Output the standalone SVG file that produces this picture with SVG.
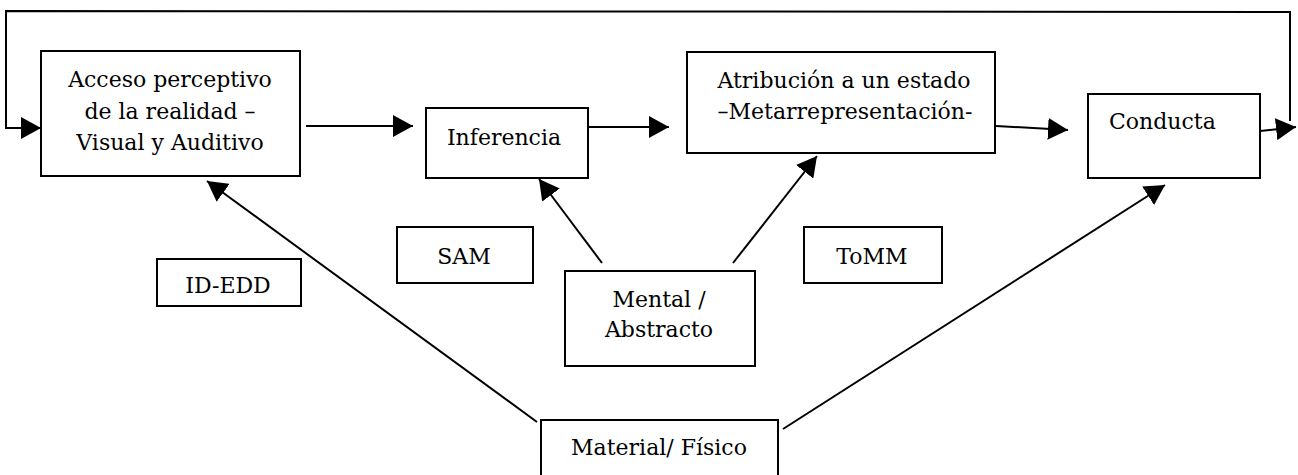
<svg xmlns="http://www.w3.org/2000/svg" width="1298" height="475" viewBox="0 0 1298 475">
<style>
  .box { fill: #ffffff; stroke: #000000; stroke-width: 2; }
  .lbl { font-family: "DejaVu Serif", "Liberation Serif", serif; font-size: 22px; fill: #000000; text-anchor: middle; }
  .conn { fill: none; stroke: #000000; stroke-width: 2; }
</style>
<defs>
  <marker id="arrow" markerUnits="userSpaceOnUse" markerWidth="21" markerHeight="22" refX="20" refY="11" orient="auto" viewBox="0 0 21 22">
    <path d="M0,0 L20,11 L0,22 z" fill="#000000"/>
  </marker>
</defs>
<rect width="1298" height="475" fill="#ffffff"/>
<g id="connectors">
  <polyline class="conn" points="1290,121 1290,12 6,11 6,128 41,128" marker-end="url(#arrow)"/>
  <line class="conn" x1="1260" y1="131" x2="1296" y2="127" marker-end="url(#arrow)"/>
  <line class="conn" x1="306" y1="126" x2="413" y2="126" marker-end="url(#arrow)"/>
  <line class="conn" x1="588" y1="127" x2="669" y2="127" marker-end="url(#arrow)"/>
  <line class="conn" x1="996" y1="126" x2="1068" y2="130" marker-end="url(#arrow)"/>
  <line class="conn" x1="602" y1="263" x2="539" y2="179" marker-end="url(#arrow)"/>
  <line class="conn" x1="733" y1="263" x2="817" y2="156" marker-end="url(#arrow)"/>
  <line class="conn" x1="537" y1="422" x2="207" y2="181" marker-end="url(#arrow)"/>
  <line class="conn" x1="783" y1="429" x2="1165" y2="185" marker-end="url(#arrow)"/>
</g>
<g id="acceso">
  <rect class="box" x="41" y="51" width="259" height="125"/>
  <text class="lbl" x="170" y="87">Acceso perceptivo</text>
  <text class="lbl" x="170" y="119">de la realidad –</text>
  <text class="lbl" x="170" y="150">Visual y Auditivo</text>
</g>
<g id="inferencia">
  <rect class="box" x="426" y="108" width="162" height="70"/>
  <text class="lbl" x="504" y="145">Inferencia</text>
</g>
<g id="atribucion">
  <rect class="box" x="687" y="52" width="308" height="101"/>
  <text class="lbl" x="844" y="88">Atribución a un estado</text>
  <text class="lbl" x="845" y="119">–Metarrepresentación-</text>
</g>
<g id="conducta">
  <rect class="box" x="1088" y="94" width="172" height="84"/>
  <text class="lbl" x="1109" y="129" style="text-anchor:start">Conducta</text>
</g>
<g id="idedd">
  <rect class="box" x="157" y="259" width="144" height="47"/>
  <text class="lbl" x="228" y="293">ID-EDD</text>
</g>
<g id="sam">
  <rect class="box" x="397" y="227" width="136" height="56"/>
  <text class="lbl" x="464" y="264">SAM</text>
</g>
<g id="tomm">
  <rect class="box" x="804" y="227" width="138" height="56"/>
  <text class="lbl" x="872" y="264">ToMM</text>
</g>
<g id="mental">
  <rect class="box" x="565" y="271" width="190" height="95"/>
  <text class="lbl" x="659" y="307">Mental /</text>
  <text class="lbl" x="659" y="337">Abstracto</text>
</g>
<g id="material">
  <rect class="box" x="541" y="420" width="237" height="62"/>
  <text class="lbl" x="659" y="455">Material/ Físico</text>
</g>
</svg>
